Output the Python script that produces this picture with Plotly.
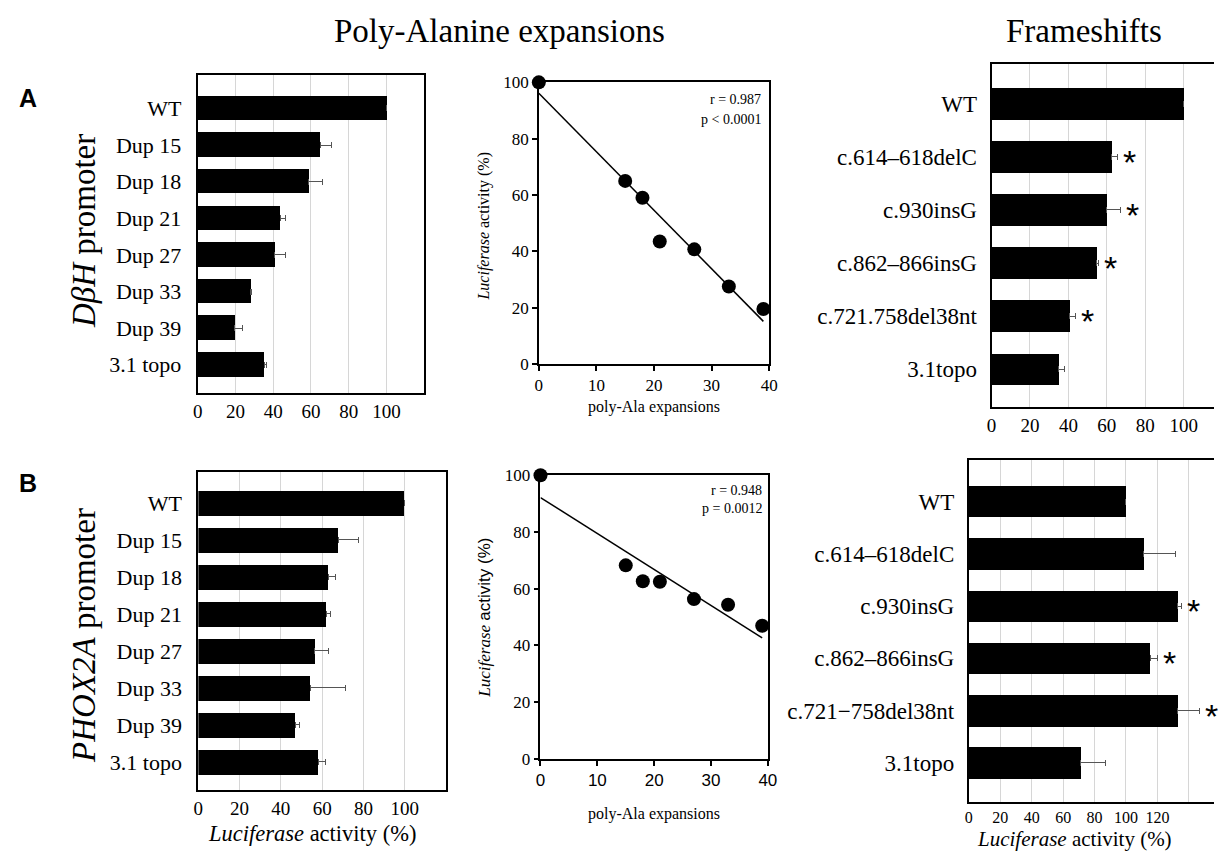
import numpy as np
import plotly.graph_objects as go

W, H = 1223, 861
SERIF = "Liberation Serif, Times New Roman, serif"
SANS = "Liberation Sans, Arial, sans-serif"

# ---------------- data ----------------
dup_labels = ["WT", "Dup 15", "Dup 18", "Dup 21", "Dup 27", "Dup 33", "Dup 39", "3.1 topo"]
dbh_dup_vals = [100, 64.8, 58.9, 43.6, 40.7, 27.9, 19.7, 35.2]
dbh_dup_errs = [0, 6.0, 7.1, 2.8, 5.9, 0.8, 3.9, 1.2]

phox_dup_vals = [100, 68.0, 63.2, 62.1, 56.5, 54.5, 46.9, 58.4]
phox_dup_errs = [0, 9.6, 3.3, 2.0, 6.8, 16.8, 1.9, 3.3]

ala_x = [0, 15, 18, 21, 27, 33, 39]
dbh_ala_y = [100, 65.0, 59.0, 43.5, 40.7, 27.5, 19.5]
phox_ala_y = [100, 68.2, 62.6, 62.4, 56.3, 54.3, 46.9]
dbh_stats = ["r = 0.987", "p < 0.0001"]
phox_stats = ["r = 0.948", "p = 0.0012"]

fs_labels_a = ["WT", "c.614\u2013618delC", "c.930insG", "c.862\u2013866insG", "c.721.758del38nt", "3.1topo"]
dbh_fs_vals = [100, 62.4, 59.7, 54.6, 40.5, 35.0]
dbh_fs_errs = [0, 3.0, 7.3, 1.0, 3.1, 2.9]
dbh_fs_sig = [False, True, True, True, True, False]

fs_labels_b = ["WT", "c.614\u2013618delC", "c.930insG", "c.862\u2013866insG", "c.721\u2212758del38nt", "3.1topo"]
phox_fs_vals = [100, 111.2, 132.8, 115.3, 132.8, 71.3]
phox_fs_errs = [0, 20.3, 2.5, 4.9, 14.0, 15.4]
phox_fs_sig = [False, False, True, True, True, False]

bar_ticks_100 = [0, 20, 40, 60, 80, 100]
bar_ticks_b3 = [0, 20, 40, 60, 80, 100, 120, 140]
bar_ticktext_b3 = ["0", "20", "40", "60", "80", "100", "120", ""]
sc_xticks = [0, 10, 20, 30, 40]
sc_yticks = [0, 20, 40, 60, 80, 100]


def xd(a, b):
    return [a / W, min(b / W, 1.0)]


def yd(top, bot):
    return [1 - bot / H, 1 - top / H]


def px(x):
    return x / W


def py(y):
    return 1 - y / H


fig = go.Figure()
layout = {}
annotations = []


def bar_panel(i, labels, vals, errs, sig, xdom, ydom, xrange, tickvals, ticktext,
              bw, pad_top, pad_bot, right_line, cat_size, tick_size, standoff):
    n = len(labels)
    fig.add_trace(go.Bar(
        x=vals, y=labels, orientation="h", width=bw,
        marker=dict(color="black", line=dict(width=0)),
        error_x=dict(type="data", symmetric=False, array=errs,
                     arrayminus=[0] * n, color="#555555", thickness=1, width=3),
        xaxis=f"x{i}", yaxis=f"y{i}", showlegend=False, hoverinfo="skip"))
    layout[f"xaxis{i}"] = dict(
        domain=xdom, range=xrange, anchor=f"y{i}", tickvals=tickvals, ticktext=ticktext,
        showgrid=True, gridcolor="#d6d6d6", gridwidth=1, zeroline=False,
        showline=True, linecolor="black", linewidth=2, mirror=True, ticks="",
        tickfont=dict(family=SERIF, size=tick_size, color="black"))
    layout[f"yaxis{i}"] = dict(
        domain=ydom, type="category", categoryorder="array", categoryarray=labels,
        range=[n - 1 + pad_bot, -pad_top], anchor=f"x{i}",
        showgrid=False, zeroline=False, showline=True, linecolor="black", linewidth=2,
        mirror=right_line, ticks="", ticklabelstandoff=standoff,
        tickfont=dict(family=SERIF, size=cat_size, color="black"))
    for lab, v, e, s in zip(labels, vals, errs, sig):
        if s:
            annotations.append(dict(
                x=v + e, y=lab, xref=f"x{i}", yref=f"y{i}", text="*",
                showarrow=False, xanchor="center", yanchor="middle", xshift=12, yshift=-5,
                font=dict(family=SANS, size=34, color="black")))


def scatter_panel(i, xs, ys, xdom, ydom, stats, stat_x, stat_y, xtick_family):
    fig.add_trace(go.Scatter(
        x=xs, y=ys, mode="markers", cliponaxis=False,
        marker=dict(color="black", size=14, line=dict(width=0)),
        xaxis=f"x{i}", yaxis=f"y{i}", showlegend=False, hoverinfo="skip"))
    slope, icpt = np.polyfit(xs, ys, 1)
    lx = [min(xs), max(xs)]
    fig.add_trace(go.Scatter(
        x=lx, y=[icpt + slope * v for v in lx], mode="lines",
        line=dict(color="black", width=1.5),
        xaxis=f"x{i}", yaxis=f"y{i}", showlegend=False, hoverinfo="skip"))
    layout[f"xaxis{i}"] = dict(
        domain=xdom, range=[0, 40], anchor=f"y{i}", tickvals=sc_xticks,
        showgrid=False, zeroline=False, showline=True, linecolor="black", linewidth=1.5,
        mirror=True, ticks="outside", ticklen=5, tickwidth=1.5, tickcolor="black",
        tickfont=dict(family=xtick_family, size=17, color="black"))
    layout[f"yaxis{i}"] = dict(
        domain=ydom, range=[0, 100], anchor=f"x{i}", tickvals=sc_yticks,
        showgrid=False, zeroline=False, showline=True, linecolor="black", linewidth=1.5,
        mirror=True, ticks="outside", ticklen=5, tickwidth=1.5, tickcolor="black",
        tickfont=dict(family=SERIF, size=17, color="black"))
    for k, t in enumerate(stats):
        annotations.append(dict(
            x=px(stat_x), y=py(stat_y[k]), xref="paper", yref="paper", text=t,
            showarrow=False, xanchor="right", yanchor="middle",
            font=dict(family=SERIF, size=14, color="black")))


# Row A
bar_panel(1, dup_labels, dbh_dup_vals, dbh_dup_errs, [False] * 8,
          xd(195, 424), yd(68, 393), [0, 120], bar_ticks_100, None,
          0.67, 0.9, 0.78, True, 22, 19, 10)
scatter_panel(2, ala_x, dbh_ala_y, xd(540, 773), yd(75, 363),
              dbh_stats, 767, [93, 113], SERIF)
bar_panel(3, fs_labels_a, dbh_fs_vals, dbh_fs_errs, dbh_fs_sig,
          xd(998, 1223), yd(56, 407), [0, 115.8], bar_ticks_100, None,
          0.6, 0.75, 0.71, False, 23, 19, 8)

# Row B
bar_panel(4, dup_labels, phox_dup_vals, phox_dup_errs, [False] * 8,
          xd(195.6, 446), yd(473, 799), [0, 120], bar_ticks_100, None,
          0.66, 0.85, 0.77, True, 22, 19, 10)
scatter_panel(5, ala_x, phox_ala_y, xd(541.7, 771.7), yd(476.7, 766.7),
              phox_stats, 768, [492, 511], SANS)
bar_panel(6, fs_labels_b, phox_fs_vals, phox_fs_errs, phox_fs_sig,
          xd(975, 1223), yd(461, 811), [0, 156], bar_ticks_b3, bar_ticktext_b3,
          0.6, 0.8, 0.75, False, 23, 16, 8)

# Titles and labels
def add_text(x, y, text, size, family=SERIF, angle=0, xanchor="center"):
    annotations.append(dict(
        x=px(x), y=py(y), xref="paper", yref="paper", text=text, showarrow=False,
        xanchor=xanchor, yanchor="middle", textangle=angle,
        font=dict(family=family, size=size, color="black")))


add_text(500, 22, "Poly-Alanine expansions", 33)
add_text(1092, 22, "Frameshifts", 33)
add_text(23, 91, "<b>A</b>", 25, SANS)
add_text(23, 485, "<b>B</b>", 25, SANS)
add_text(80, 227, "<i>D\u03b2H</i> promoter", 33, angle=-90)
add_text(80, 641, "<i>PHOX2A</i> promoter", 33, angle=-90)
add_text(485, 222, "<i>Luciferase</i> activity (%)", 16, angle=-90)
add_text(485, 622, "<i>Luciferase</i> <span style='font-family:Liberation Sans'>activity (%)</span>", 17, angle=-90)
add_text(657, 407, "poly-Ala expansions", 16)
add_text(657, 823, "poly-Ala expansions", 16)
add_text(311, 843, "<i>Luciferase</i> activity (%)", 22.5)
add_text(1082, 848.5, "<i>Luciferase</i> activity (%)", 21)

fig.update_layout(
    width=W, height=H, margin=dict(l=0, r=0, t=0, b=0),
    paper_bgcolor="white", plot_bgcolor="white", showlegend=False,
    bargap=0, annotations=annotations, **layout)

fig.write_html("out.html",
               config={"displayModeBar": False},
               post_script="document.body.style.margin='0px';document.body.style.overflow='hidden';")
